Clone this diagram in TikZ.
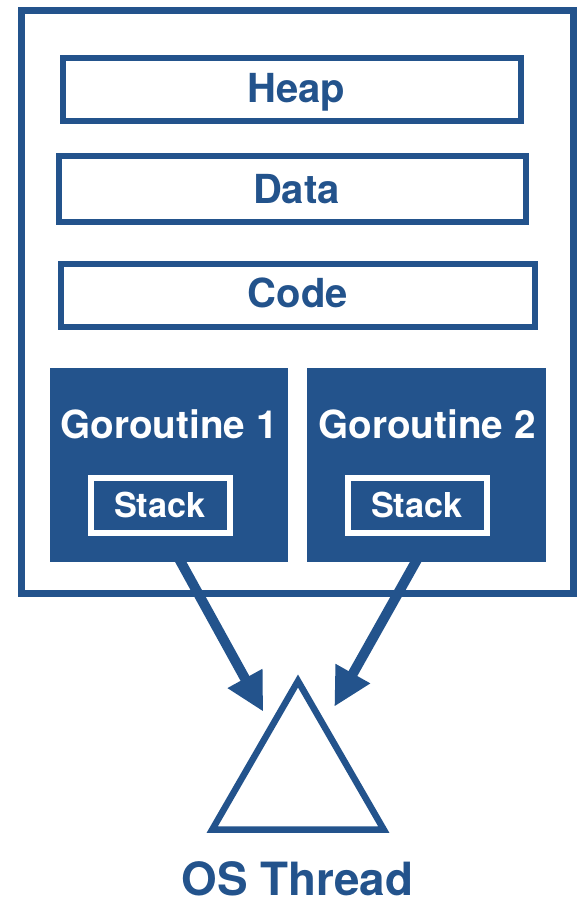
\documentclass[tikz,border=0pt]{standalone}
\usepackage{fontspec}
\setmainfont{TeX Gyre Heros}
\usetikzlibrary{arrows.meta,shapes.geometric}
\definecolor{gblue}{HTML}{23538C}
\begin{document}
\begin{tikzpicture}[x=1pt,y=-1pt,
  memframe/.style={draw=gblue, line width=7pt, inner sep=0pt},
  segbox/.style={draw=gblue, line width=6pt, fill=white, inner sep=0pt},
  gorbox/.style={fill=gblue, inner sep=0pt},
  stackbox/.style={draw=white, line width=6pt, inner sep=0pt},
  bluelbl/.style={text=gblue, inner sep=0pt, anchor=base, font=\bfseries\fontsize{40}{40}\selectfont},
  whitelbl/.style={text=white, inner sep=0pt, anchor=base, font=\bfseries\fontsize{38.7}{38.7}\selectfont},
  stacklbl/.style={text=white, inner sep=0pt, anchor=base, font=\bfseries\fontsize{34.3}{34.3}\selectfont},
  thr/.style={draw=gblue, line width=6.5pt, regular polygon, regular polygon sides=3, inner sep=0pt},
  arr/.style={draw=gblue, line width=10pt, -{Triangle[length=38pt,width=37pt]}}
]
\useasboundingbox (0,0) rectangle (582,906);
\fill[white] (0,0) rectangle (582,906);

\node (proc) [memframe, minimum width=552pt, minimum height=583pt] at (297.5,302) {};

\node (heap) [segbox, minimum width=458pt, minimum height=63pt] at (292,89.5) {};
\node (data) [segbox, minimum width=467pt, minimum height=66pt] at (292.5,189) {};
\node (code) [segbox, minimum width=474pt, minimum height=63pt] at (298,295.5) {};

\node (heapt) [bluelbl] at (296.5,102.5) {Heap};
\node (datat) [bluelbl] at (296.5,203) {Data};
\node (codet) [bluelbl] at (297.8,307) {Code};

\node (g1) [gorbox, minimum width=238pt, minimum height=194pt] at (169,465) {};
\node (g2) [gorbox, minimum width=239pt, minimum height=194pt] at (426.5,465) {};

\node (g1t) [whitelbl] at (169,438.5) {Goroutine 1};
\node (g2t) [whitelbl] at (427,438.5) {Goroutine 2};

\node (s1) [stackbox, minimum width=139pt, minimum height=55pt] at (160.5,505.5) {};
\node (s2) [stackbox, minimum width=139pt, minimum height=55pt] at (417.5,505.5) {};
\node (s1t) [stacklbl] at (160,517.5) {Stack};
\node (s2t) [stacklbl] at (417,517.5) {Stack};

\node (thread) [thr, minimum size=198pt] at (298,780) {};
\node (threadt) [bluelbl, font=\bfseries\fontsize{45.8}{45.8}\selectfont] at (297.5,895) {OS Thread};

\coordinate (a1s) at (177.5,556);
\coordinate (a1e) at (263.3,711.7);
\coordinate (a2s) at (419,556);
\coordinate (a2e) at (334.3,706.7);
\draw[arr] (a1s) -- (a1e);
\draw[arr] (a2s) -- (a2e);
\end{tikzpicture}
\end{document}
